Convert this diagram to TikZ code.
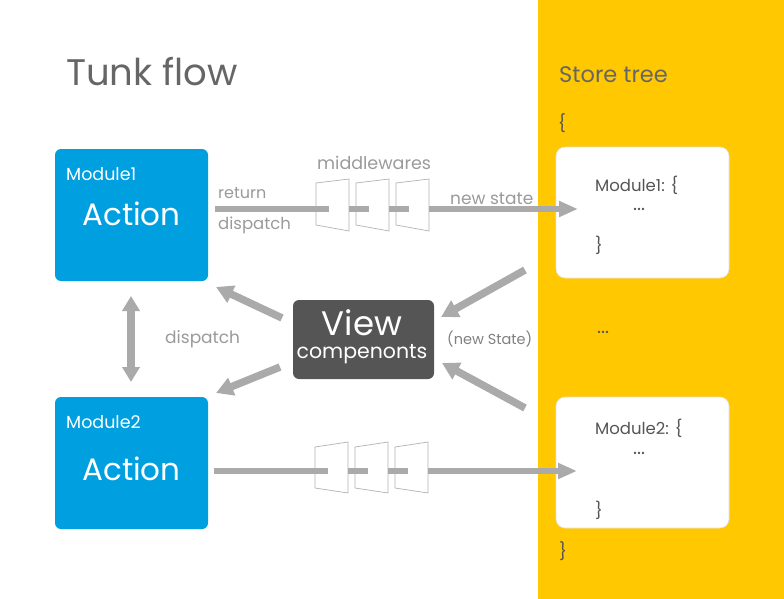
\documentclass[tikz,border=0pt]{standalone}
\usepackage{fontspec}
\setmainfont{Poppins}
\usetikzlibrary{arrows.meta}
\definecolor{actblue}{HTML}{009FDF}
\definecolor{storeyel}{HTML}{FFC800}
\definecolor{arrgray}{HTML}{AAAAAA}
\definecolor{viewdark}{HTML}{555555}
\definecolor{titlegray}{HTML}{666666}
\definecolor{labgray}{HTML}{9A9A9A}
\definecolor{codegray}{HTML}{555555}
\tikzset{
  fs/.style={font=\fontsize{#1}{#1}\selectfont},
  actionbox/.style={fill=actblue, rounded corners=6pt, minimum width=153pt, minimum height=132pt, inner sep=0pt},
  storebox/.style={fill=white, draw=black!12, line width=0.6pt, rounded corners=9pt, minimum width=173pt, minimum height=131pt, inner sep=0pt},
  viewbox/.style={fill=viewdark, rounded corners=6pt, minimum width=141pt, minimum height=79pt, inner sep=0pt},
  flowbar/.style={draw=arrgray, line width=6.5pt},
  flowarrow/.style={draw=arrgray, line width=6.5pt, -{Triangle[length=19pt 0 0, width=15pt 0 0]}},
  fatarrow/.style={draw=arrgray, line width=7.5pt, -{Triangle[length=17pt 0 0, width=18pt 0 0]}},
  dblarrow/.style={draw=arrgray, line width=7.5pt, {Triangle[length=15pt 0 0, width=17pt 0 0]}-{Triangle[length=15pt 0 0, width=17pt 0 0]}},
  mware/.style={draw=black!30, fill=white, line width=0.7pt},
  lab/.style={text=labgray, inner sep=0pt},
  code/.style={text=codegray, inner sep=0pt, fs=16.5},
  dots/.style={text=codegray, inner sep=0pt, fs=19, anchor=base},
}
\begin{document}
\begin{tikzpicture}[x=1pt,y=-1pt]
\useasboundingbox (0,0) rectangle (784,599);
\fill[storeyel] (538,0) rectangle (784,599);

% titles
\node[anchor=base west, inner sep=0pt, text=titlegray, fs=37] (title) at (66,86) {Tunk flow};
\node[anchor=base west, inner sep=0pt, text=titlegray, fs=22.5] (storetitle) at (559,83) {Store tree};
\node[anchor=base west, code, fs=17] (ob) at (558,130) {\{};
\node[anchor=base west, code, fs=17] (cb) at (559,557) {\}};
\node[dots] (mid) at (603,333) {...};

% action boxes
\node[actionbox] (m1) at (131.5,215) {};
\node[anchor=base west, text=white, inner sep=0pt, fs=17.5] (m1t) at (66,180) {Module1};
\node[anchor=base, text=white, inner sep=0pt, fs=31] (m1a) at (131.5,225) {Action};
\node[actionbox] (m2) at (131.5,463) {};
\node[anchor=base west, text=white, inner sep=0pt, fs=17.5] (m2t) at (66,428) {Module2};
\node[anchor=base, text=white, inner sep=0pt, fs=31] (m2a) at (131.5,480) {Action};

% store boxes
\node[storebox] (s1) at (642.5,212.5) {};
\node[anchor=base west, code] (s1a) at (595,191) {Module1: \{};
\node[dots] (s1b) at (639,210) {...};
\node[anchor=base west, code] (s1c) at (595,251) {\}};
\node[storebox] (s2) at (642.5,462.5) {};
\node[anchor=base west, code] (s2a) at (595,434) {Module2: \{};
\node[dots] (s2b) at (639,454) {...};
\node[anchor=base west, code] (s2c) at (595,516) {\}};

% view
\node[viewbox] (view) at (363.5,339.5) {};
\node[text=white, inner sep=0pt, align=center, font=\fontsize{20.5}{22.5}\selectfont] (viewt) at (362,336.5)
  {{\fontsize{34}{22.5}\selectfont View}\\compenonts};

% top flow
\draw[mware] (316,183) -- (349,179) -- (349,231) -- (316,225) -- cycle;
\draw[mware] (356,183) -- (389,179) -- (389,231) -- (356,225) -- cycle;
\draw[mware] (396,183) -- (429,179) -- (429,231) -- (396,225) -- cycle;
\coordinate (t0) at (215,209);
\coordinate (t1) at (329,209);
\coordinate (t2) at (349,209);
\coordinate (t3) at (369,209);
\coordinate (t4) at (389,209);
\coordinate (t5) at (409,209);
\coordinate (t6) at (429,209);
\coordinate (t7) at (578,209);
\draw[flowbar] (t0) -- (t1);
\draw[flowbar] (t2) -- (t3);
\draw[flowbar] (t4) -- (t5);
\draw[flowarrow] (t6) -- (t7);
\node[anchor=base west, lab, fs=16] (ret) at (218,198) {return};
\node[anchor=base west, lab, fs=16.5] (disp1) at (218,229) {dispatch};
\node[anchor=base west, lab, fs=17.5] (mw) at (317,169) {middlewares};
\node[anchor=base west, lab, fs=17] (ns) at (450,204) {new state};

% bottom flow
\draw[mware] (315,447) -- (348,442) -- (348,493) -- (315,488) -- cycle;
\draw[mware] (355,447) -- (388,442) -- (388,493) -- (355,488) -- cycle;
\draw[mware] (395,447) -- (428,442) -- (428,493) -- (395,488) -- cycle;
\coordinate (b0) at (214,471);
\coordinate (b1) at (328,471);
\coordinate (b2) at (348,471);
\coordinate (b3) at (368,471);
\coordinate (b4) at (388,471);
\coordinate (b5) at (408,471);
\coordinate (b6) at (428,471);
\coordinate (b7) at (577,471);
\draw[flowbar] (b0) -- (b1);
\draw[flowbar] (b2) -- (b3);
\draw[flowbar] (b4) -- (b5);
\draw[flowarrow] (b6) -- (b7);

% dispatch between modules
\coordinate (d0) at (131,296);
\coordinate (d1) at (131,382);
\draw[dblarrow] (d0) -- (d1);
\node[anchor=base west, lab, fs=17] (disp2) at (165,343) {dispatch};

% view arrows
\coordinate (v1s) at (282,318);
\coordinate (v1e) at (216,287);
\coordinate (v2s) at (280,367);
\coordinate (v2e) at (216,393);
\draw[fatarrow] (v1s) -- (v1e);
\draw[fatarrow] (v2s) -- (v2e);
\coordinate (r1s) at (525,270);
\coordinate (r1e) at (441,317);
\coordinate (r2s) at (525,408);
\coordinate (r2e) at (442,363);
\draw[fatarrow] (r1s) -- (r1e);
\draw[fatarrow] (r2s) -- (r2e);
\node[anchor=base west, text=black!50, inner sep=0pt, fs=14.5] (nst) at (447,344) {(new State)};
\end{tikzpicture}
\end{document}
